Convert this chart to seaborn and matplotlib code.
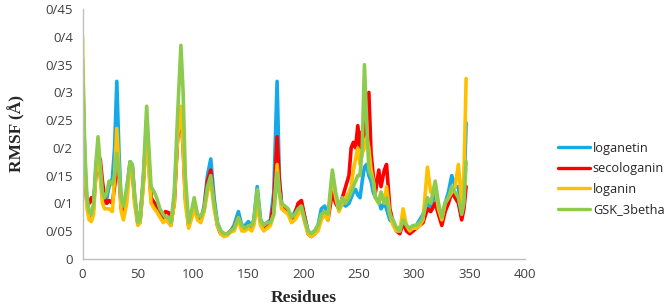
import pandas as pd
import seaborn as sns
import matplotlib.pyplot as plt
from matplotlib.ticker import FuncFormatter

sns.set_style("white")

residues = [
    0, 2, 4, 6, 8, 10, 12, 14, 16, 18,
    20, 22, 24, 27, 29, 31, 33, 35, 37, 40,
    43, 45, 47, 50, 52, 55, 58, 60, 62, 65,
    67, 70, 73, 75, 78, 80, 83, 86, 89, 91,
    93, 96, 99, 101, 104, 107, 110, 113, 116, 119,
    122, 125, 128, 131, 134, 137, 141, 144, 147, 150,
    153, 155, 158, 161, 164, 167, 170, 173, 176, 178,
    180, 183, 186, 189, 192, 195, 198, 201, 204, 207,
    210, 213, 216, 219, 222, 226, 229, 232, 235, 238,
    241, 243, 245, 247, 249, 251, 253, 255, 257, 259,
    261, 263, 265, 268, 270, 273, 275, 278, 281, 284,
    287, 290, 293, 296, 299, 302, 305, 308, 312, 315,
    319, 322, 325, 328, 331, 334, 337, 340, 343, 345,
    347,
]

loganetin = [
    0.34, 0.18, 0.10, 0.08, 0.075, 0.09, 0.16, 0.20, 0.15, 0.11,
    0.10, 0.11, 0.13, 0.145, 0.20, 0.32, 0.19, 0.10, 0.09, 0.12,
    0.175, 0.17, 0.11, 0.065, 0.065, 0.14, 0.25, 0.18, 0.11, 0.10,
    0.10, 0.08, 0.07, 0.075, 0.065, 0.06, 0.11, 0.22, 0.27, 0.22,
    0.12, 0.06, 0.08, 0.10, 0.075, 0.07, 0.095, 0.15, 0.18, 0.11,
    0.065, 0.05, 0.045, 0.045, 0.05, 0.06, 0.085, 0.06, 0.06, 0.067,
    0.06, 0.07, 0.13, 0.07, 0.06, 0.065, 0.07, 0.12, 0.32, 0.15,
    0.10, 0.09, 0.085, 0.07, 0.085, 0.095, 0.10, 0.075, 0.05, 0.045,
    0.05, 0.06, 0.09, 0.095, 0.08, 0.13, 0.10, 0.09, 0.10, 0.095,
    0.10, 0.11, 0.12, 0.125, 0.115, 0.11, 0.14, 0.165, 0.17, 0.15,
    0.14, 0.12, 0.11, 0.105, 0.09, 0.10, 0.09, 0.07, 0.065, 0.055,
    0.055, 0.07, 0.055, 0.055, 0.055, 0.06, 0.07, 0.08, 0.10, 0.09,
    0.12, 0.09, 0.07, 0.10, 0.12, 0.15, 0.13, 0.13, 0.08, 0.12,
    0.245,
]

secologanin = [
    0.30, 0.15, 0.10, 0.10, 0.11, 0.10, 0.15, 0.16, 0.18, 0.14,
    0.11, 0.10, 0.105, 0.10, 0.13, 0.17, 0.15, 0.09, 0.085, 0.12,
    0.17, 0.165, 0.11, 0.065, 0.07, 0.14, 0.23, 0.17, 0.11, 0.10,
    0.09, 0.085, 0.075, 0.085, 0.083, 0.065, 0.10, 0.22, 0.26, 0.20,
    0.11, 0.06, 0.08, 0.10, 0.075, 0.07, 0.09, 0.14, 0.16, 0.10,
    0.06, 0.045, 0.042, 0.045, 0.05, 0.055, 0.075, 0.055, 0.055, 0.06,
    0.055, 0.065, 0.11, 0.065, 0.055, 0.06, 0.065, 0.10, 0.22, 0.14,
    0.10, 0.09, 0.085, 0.07, 0.08, 0.10, 0.105, 0.075, 0.045, 0.04,
    0.045, 0.055, 0.075, 0.085, 0.07, 0.12, 0.10, 0.09, 0.11, 0.13,
    0.15, 0.20, 0.21, 0.20, 0.24, 0.20, 0.23, 0.22, 0.26, 0.30,
    0.19, 0.15, 0.12, 0.16, 0.13, 0.16, 0.17, 0.09, 0.065, 0.05,
    0.045, 0.065, 0.05, 0.045, 0.05, 0.055, 0.06, 0.065, 0.09, 0.085,
    0.10, 0.08, 0.06, 0.085, 0.10, 0.12, 0.11, 0.10, 0.07, 0.09,
    0.13,
]

loganin = [
    0.40, 0.17, 0.09, 0.07, 0.067, 0.08, 0.15, 0.20, 0.15, 0.10,
    0.09, 0.09, 0.09, 0.085, 0.15, 0.235, 0.16, 0.085, 0.07, 0.10,
    0.17, 0.16, 0.10, 0.06, 0.065, 0.13, 0.24, 0.16, 0.10, 0.09,
    0.085, 0.075, 0.065, 0.07, 0.065, 0.06, 0.10, 0.22, 0.275, 0.20,
    0.10, 0.055, 0.075, 0.09, 0.07, 0.065, 0.085, 0.12, 0.14, 0.09,
    0.06, 0.045, 0.04, 0.042, 0.048, 0.05, 0.07, 0.05, 0.05, 0.055,
    0.05, 0.06, 0.10, 0.06, 0.05, 0.055, 0.06, 0.08, 0.17, 0.12,
    0.09, 0.085, 0.08, 0.065, 0.07, 0.08, 0.09, 0.065, 0.045, 0.04,
    0.045, 0.05, 0.07, 0.08, 0.07, 0.15, 0.11, 0.085, 0.10, 0.11,
    0.12, 0.13, 0.16, 0.18, 0.20, 0.17, 0.19, 0.20, 0.22, 0.20,
    0.16, 0.14, 0.11, 0.10, 0.12, 0.10, 0.13, 0.08, 0.06, 0.05,
    0.05, 0.09, 0.06, 0.05, 0.055, 0.055, 0.06, 0.07, 0.165, 0.12,
    0.13, 0.09, 0.07, 0.10, 0.11, 0.12, 0.13, 0.17, 0.10, 0.15,
    0.325,
]

gsk_3betha = [
    0.36, 0.20, 0.11, 0.085, 0.08, 0.10, 0.17, 0.22, 0.17, 0.12,
    0.11, 0.12, 0.14, 0.135, 0.15, 0.19, 0.16, 0.11, 0.095, 0.13,
    0.175, 0.17, 0.12, 0.065, 0.07, 0.15, 0.275, 0.20, 0.13, 0.12,
    0.11, 0.09, 0.08, 0.075, 0.075, 0.065, 0.12, 0.26, 0.385, 0.30,
    0.15, 0.065, 0.09, 0.11, 0.08, 0.075, 0.09, 0.13, 0.15, 0.10,
    0.065, 0.05, 0.045, 0.045, 0.05, 0.055, 0.075, 0.06, 0.055, 0.06,
    0.06, 0.07, 0.125, 0.07, 0.06, 0.065, 0.065, 0.08, 0.155, 0.12,
    0.10, 0.095, 0.09, 0.075, 0.08, 0.09, 0.095, 0.07, 0.05, 0.045,
    0.05, 0.06, 0.08, 0.085, 0.08, 0.16, 0.12, 0.09, 0.11, 0.10,
    0.11, 0.12, 0.13, 0.14, 0.15, 0.15, 0.20, 0.35, 0.25, 0.16,
    0.15, 0.14, 0.11, 0.10, 0.12, 0.10, 0.11, 0.08, 0.07, 0.055,
    0.05, 0.07, 0.06, 0.055, 0.06, 0.06, 0.065, 0.075, 0.11, 0.10,
    0.14, 0.10, 0.075, 0.10, 0.11, 0.13, 0.12, 0.11, 0.08, 0.10,
    0.175,
]

series_names = ["loganetin", "secologanin", "loganin", "GSK_3betha"]
series_colors = ["#14A9E8", "#FF0000", "#FFC000", "#8DCB4E"]

series = [loganetin, secologanin, loganin, gsk_3betha]
frames = []
for name, values in zip(series_names, series):
    assert len(values) == len(residues), name
    frames.append(pd.DataFrame({"Residues": residues, "RMSF": values, "ligand": name}))
df = pd.concat(frames, ignore_index=True)

fig = plt.figure(figsize=(6.71, 3.06), dpi=100)
ax = fig.add_axes([0.123, 0.1546, 0.659, 0.815])

sns.lineplot(
    data=df, x="Residues", y="RMSF", hue="ligand",
    hue_order=series_names, palette=dict(zip(series_names, series_colors)),
    linewidth=2.6, ax=ax, legend=False,
)

ax.set_xlim(0, 400)
ax.set_ylim(0, 0.45)
ax.set_xticks(range(0, 401, 50))
ax.set_yticks([i * 0.05 for i in range(10)])
ax.yaxis.set_major_formatter(FuncFormatter(lambda v, p: "0" if abs(v) < 1e-9 else ("%g" % round(v, 2)).replace(".", "/")))

for side in ["top", "right"]:
    ax.spines[side].set_visible(False)
for side in ["left", "bottom"]:
    ax.spines[side].set_color("#BFBFBF")
    ax.spines[side].set_linewidth(1.0)
ax.tick_params(axis="both", direction="out", length=4, width=1, color="#BFBFBF",
               labelsize=9.5, labelcolor="#404040", pad=3)
for lbl in ax.get_xticklabels() + ax.get_yticklabels():
    lbl.set_family(["Open Sans", "DejaVu Sans"])

ax.set_xlabel("Residues", fontsize=12.5, fontweight="bold", family="Liberation Serif", labelpad=6)
ax.set_ylabel("RMSF (Å)", fontsize=12.5, fontweight="bold", family="Liberation Serif", labelpad=14)
ax.grid(False)

handles = [plt.Line2D([], [], color=c, linewidth=2.4) for c in series_colors]
fig.legend(handles, series_names, loc="upper left", bbox_to_anchor=(0.815, 0.575),
           frameon=False, handlelength=2.5, handletextpad=0.2, labelspacing=0.6,
           prop={"family": "Open Sans", "size": 9.2})

fig.savefig("out.png", dpi=100)
